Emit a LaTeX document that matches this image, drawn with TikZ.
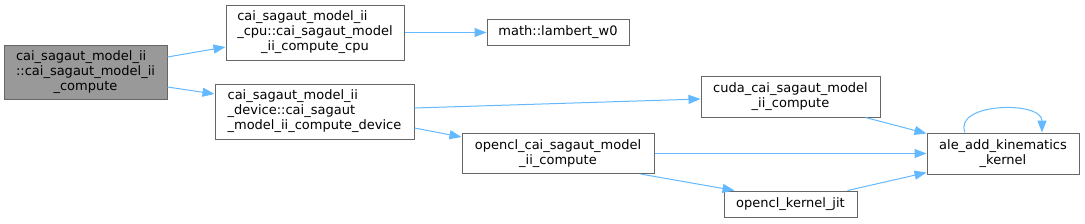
\documentclass[tikz,border=0pt]{standalone}
\usepackage{fontspec}
\setmainfont{DejaVu Sans}
\usetikzlibrary{arrows.meta}
\definecolor{edgeblue}{HTML}{63B8FF}
\definecolor{boxborder}{HTML}{666666}
\definecolor{rootfill}{HTML}{999999}
\newcommand{\lns}[1]{\begin{tabular}{@{}l@{}}#1\end{tabular}}
\newcommand{\cl}[1]{\multicolumn{1}{@{}c@{}}{#1}}
\tikzset{
  fn/.style={draw=boxborder, fill=white, line width=1pt, inner sep=0pt, rectangle,
    font=\fontsize{13}{15}\selectfont},
  rootfn/.style={fn, fill=rootfill},
  edge/.style={draw=edgeblue, line width=1pt, -{Triangle[length=12pt,width=9pt]}}
}
\begin{document}
\begin{tikzpicture}[x=1pt,y=1pt]
\useasboundingbox (0,0) rectangle (1085,-223);
\node[rootfn, minimum width=163pt, minimum height=54pt] (A) at (85.5,-72)
  {\lns{cai\_sagaut\_model\_ii\\::cai\_sagaut\_model\_ii\\\cl{\_compute}}};
\node[fn, minimum width=178pt, minimum height=55pt] (B) at (315,-32.5)
  {\lns{cai\_sagaut\_model\_ii\\\_cpu::cai\_sagaut\_model\\\cl{\_ii\_compute\_cpu}}};
\node[fn, minimum width=142pt, minimum height=26pt] (C) at (558,-32.5)
  {math::lambert\_w0};
\node[fn, minimum width=199pt, minimum height=55pt] (D) at (314.5,-111.5)
  {\lns{cai\_sagaut\_model\_ii\\\_device::cai\_sagaut\\\cl{\_model\_ii\_compute\_device}}};
\node[fn, minimum width=192pt, minimum height=40pt] (E) at (558,-153.5)
  {\lns{opencl\_cai\_sagaut\_model\\\cl{\_ii\_compute}}};
\node[fn, minimum width=179pt, minimum height=41pt] (F) at (790.5,-96.5)
  {\lns{cuda\_cai\_sagaut\_model\\\cl{\_ii\_compute}}};
\node[fn, minimum width=152pt, minimum height=41pt] (G) at (1003,-153.5)
  {\lns{ale\_add\_kinematics\\\cl{\_kernel}}};
\node[fn, minimum width=133pt, minimum height=26pt] (H) at (790.5,-204)
  {opencl\_kernel\_jit};

\draw[edge] ([yshift=15pt]A.east) -- ([yshift=-14.5pt]B.west);
\draw[edge] ([yshift=-15pt]A.east) -- ([yshift=17.5pt]D.west);
\draw[edge] (B.east) -- (C.west);
\draw[edge] ([yshift=3.5pt]D.east) -- ([yshift=-2.5pt]F.west);
\draw[edge] ([yshift=-16.5pt]D.east) -- ([yshift=16.5pt]E.west);
\draw[edge] ([xshift=-15pt]F.south east) -- ([yshift=-1pt]G.north west);
\draw[edge] (E.east) -- (G.west);
\draw[edge] ([xshift=-14pt]E.south east) -- ([xshift=11pt]H.north west);
\draw[edge] ([xshift=-10pt]H.north east) -- ([yshift=2pt]G.south west);
\draw[edge] ([xshift=-38pt]G.north) .. controls +(-12,30) and +(0,32) .. ([xshift=39pt]G.north);
\end{tikzpicture}
\end{document}
